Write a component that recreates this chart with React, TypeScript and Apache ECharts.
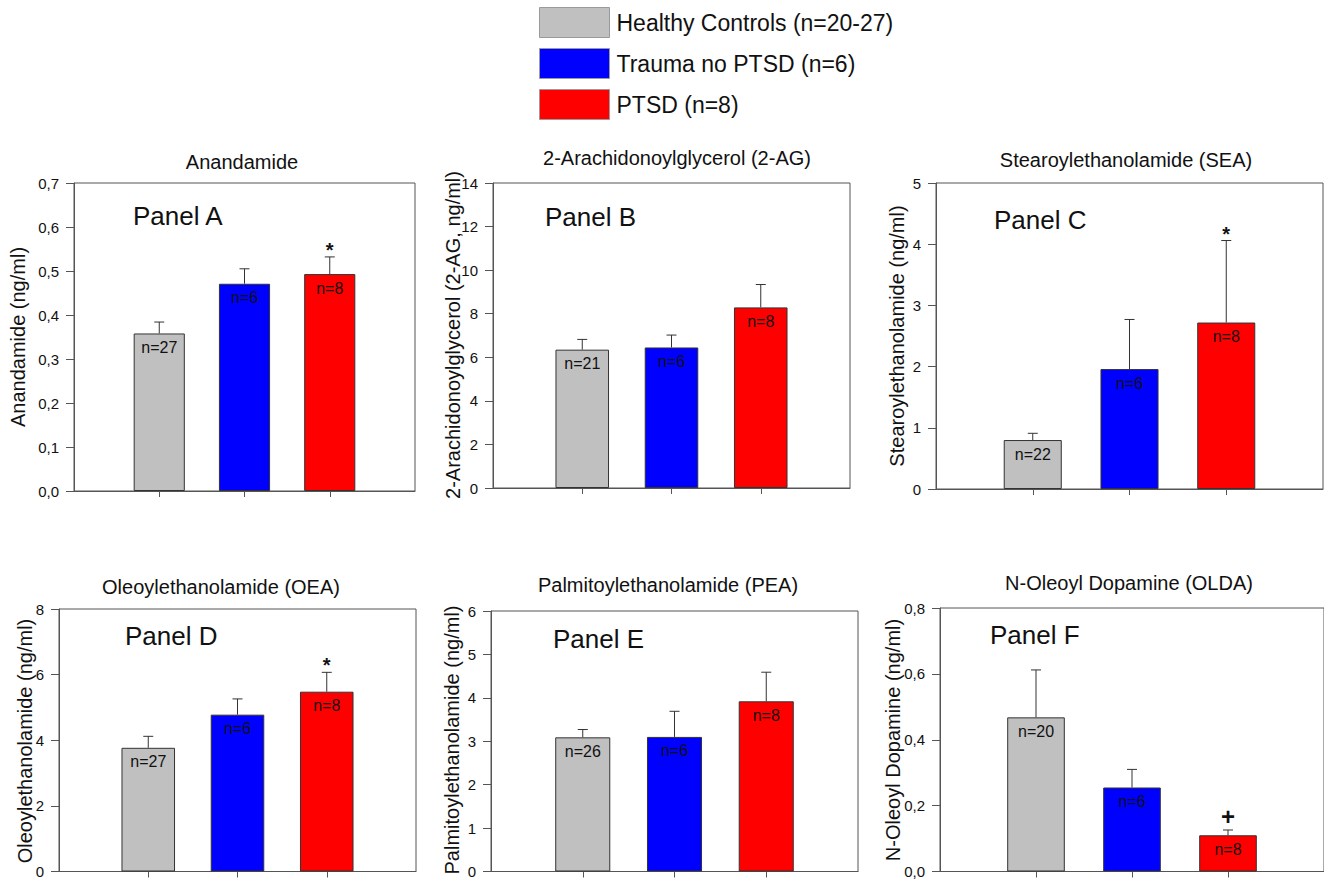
import React, { useEffect, useRef } from "react";
import * as echarts from "echarts";

// ---------- data ----------
const groups = ["Healthy Controls (n=20-27)", "Trauma no PTSD (n=6)", "PTSD (n=8)"];
const groupColors = ["#c0c0c0", "#0000ff", "#ff0000"];
const groupX = [1, 2, 3];

const panelTitles = [
  "Anandamide",
  "2-Arachidonoylglycerol (2-AG)",
  "Stearoylethanolamide (SEA)",
  "Oleoylethanolamide (OEA)",
  "Palmitoylethanolamide (PEA)",
  "N-Oleoyl Dopamine (OLDA)",
];
const panelLetters = ["Panel A", "Panel B", "Panel C", "Panel D", "Panel E", "Panel F"];
const yAxisTitles = [
  "Anandamide (ng/ml)",
  "2-Arachidonoylglycerol (2-AG, ng/ml)",
  "Stearoylethanolamide (ng/ml)",
  "Oleoylethanolamide (ng/ml)",
  "Palmitoylethanolamide (ng/ml)",
  "N-Oleoyl Dopamine (ng/ml)",
];

const meansA = [0.358, 0.471, 0.493];
const errTopA = [0.384, 0.505, 0.532];
const nA = ["n=27", "n=6", "n=8"];
const marksA = ["", "", "*"];

const meansB = [6.35, 6.45, 8.29];
const errTopB = [6.82, 7.02, 9.34];
const nB = ["n=21", "n=6", "n=8"];
const marksB = ["", "", ""];

const meansC = [0.8, 1.96, 2.72];
const errTopC = [0.91, 2.77, 4.06];
const nC = ["n=22", "n=6", "n=8"];
const marksC = ["", "", "*"];

const meansD = [3.77, 4.78, 5.48];
const errTopD = [4.12, 5.26, 6.07];
const nD = ["n=27", "n=6", "n=8"];
const marksD = ["", "", "*"];

const meansE = [3.09, 3.1, 3.92];
const errTopE = [3.27, 3.69, 4.59];
const nE = ["n=26", "n=6", "n=8"];
const marksE = ["", "", ""];

const meansF = [0.468, 0.255, 0.11];
const errTopF = [0.612, 0.31, 0.126];
const nF = ["n=20", "n=6", "n=8"];
const marksF = ["", "", "+"];

const yMax = [0.7, 14, 5, 8, 6, 0.8];
const yInterval = [0.1, 2, 1, 2, 1, 0.2];
const yDecimals = [1, 0, 0, 0, 0, 1];

const allMeans = [meansA, meansB, meansC, meansD, meansE, meansF];
const allErrTop = [errTopA, errTopB, errTopC, errTopD, errTopE, errTopF];
const allN = [nA, nB, nC, nD, nE, nF];
const allMarks = [marksA, marksB, marksC, marksD, marksE, marksF];

// ---------- layout ----------
const grids = [
  { left: 74, top: 183, width: 341, height: 308 },
  { left: 493, top: 183, width: 357, height: 305 },
  { left: 936, top: 183, width: 387, height: 306 },
  { left: 59, top: 609, width: 357, height: 263 },
  { left: 491, top: 611, width: 367, height: 261 },
  { left: 940, top: 608, width: 384, height: 265 },
];
const titlePos = [
  [242, 162], [677, 158], [1126, 160], [221, 587], [668, 585], [1129, 583],
];
const letterPos = [
  [133, 216], [545, 217], [994, 220], [125, 636], [553, 639], [990, 635],
];
const yTitlePos = [
  [18, 337], [453, 335], [897, 336], [25, 741], [452, 740], [893, 740],
];

const FONT = "'Liberation Sans', Arial, sans-serif";
const TXT = "#111";
const AXC = "#555";

function buildOption() {
  const xAxis: any[] = [];
  const yAxis: any[] = [];
  const series: any[] = [];
  const graphic: any[] = [];

  grids.forEach((g, i) => {
    xAxis.push({
      type: "value",
      gridIndex: i,
      min: 0,
      max: 4,
      splitLine: { show: false },
      axisLine: { show: true, lineStyle: { color: AXC, width: 1 } },
      axisTick: { show: true, customValues: groupX, length: 6, lineStyle: { color: AXC } },
      axisLabel: { show: false },
    });
    const dec = yDecimals[i];
    yAxis.push({
      type: "value",
      gridIndex: i,
      min: 0,
      max: yMax[i],
      interval: yInterval[i],
      splitLine: { show: false },
      axisLine: { show: true, lineStyle: { color: AXC, width: 1 } },
      axisTick: { show: true, length: 8, lineStyle: { color: AXC } },
      axisLabel: {
        margin: 15,
        fontSize: 15,
        color: TXT,
        fontFamily: FONT,
        formatter: (v: number) => (dec ? v.toFixed(dec).replace(".", ",") : String(Math.round(v))),
      },
    });
    const barW = (0.6 * g.width) / 4;
    groups.forEach((name, k) => {
      series.push({
        type: "bar",
        name,
        xAxisIndex: i,
        yAxisIndex: i,
        barWidth: barW,
        barGap: "-100%",
        itemStyle: { color: groupColors[k], borderColor: "#333", borderWidth: 1 },
        label: {
          show: true,
          position: "insideTop",
          distance: 6,
          formatter: () => allN[i][k],
          fontSize: 16,
          color: TXT,
          fontFamily: FONT,
        },
        data: [[groupX[k], allMeans[i][k]]],
        z: 2,
      });
    });
    const marks = allMarks[i];
    series.push({
      type: "custom",
      xAxisIndex: i,
      yAxisIndex: i,
      z: 3,
      data: groupX.map((x, k) => [x, allMeans[i][k], allErrTop[i][k]]),
      renderItem: (params: any, api: any) => {
        const x = api.value(0);
        const m = api.value(1);
        const t = api.value(2);
        const p0 = api.coord([x, m]);
        const p1 = api.coord([x, t]);
        const children: any[] = [
          { type: "line", shape: { x1: p0[0], y1: p0[1], x2: p1[0], y2: p1[1] }, style: { stroke: "#333", lineWidth: 1 } },
          { type: "line", shape: { x1: p1[0] - 5, y1: p1[1], x2: p1[0] + 5, y2: p1[1] }, style: { stroke: "#333", lineWidth: 1 } },
        ];
        const mk = marks[params.dataIndex];
        if (mk) {
          const isStar = mk === "*";
          children.push({
            type: "text",
            x: p1[0],
            y: p1[1] - (isStar ? 7 : 13),
            style: {
              text: mk,
              font: isStar ? `bold 20px ${FONT}` : `bold 24px ${FONT}`,
              fill: TXT,
              align: "center",
              verticalAlign: "middle",
              textAlign: "center",
              textVerticalAlign: "middle",
            },
          });
        }
        return { type: "group", children };
      },
    });

    graphic.push({
      type: "text",
      x: titlePos[i][0],
      y: titlePos[i][1],
      style: { text: panelTitles[i], font: `20px ${FONT}`, fill: TXT, textAlign: "center", textVerticalAlign: "middle", align: "center", verticalAlign: "middle" },
    });
    graphic.push({
      type: "text",
      x: letterPos[i][0],
      y: letterPos[i][1],
      style: { text: panelLetters[i], font: `26px ${FONT}`, fill: TXT, textAlign: "left", textVerticalAlign: "middle", align: "left", verticalAlign: "middle" },
    });
    graphic.push({
      type: "text",
      x: yTitlePos[i][0],
      y: yTitlePos[i][1],
      rotation: Math.PI / 2,
      style: { text: yAxisTitles[i], font: `20px ${FONT}`, fill: TXT, textAlign: "center", textVerticalAlign: "middle", align: "center", verticalAlign: "middle" },
    });
  });

  return {
    animation: false,
    backgroundColor: "#ffffff",
    textStyle: { fontFamily: FONT },
    legend: {
      data: groups,
      orient: "vertical",
      left: 539,
      top: 7,
      padding: 0,
      itemWidth: 70,
      itemHeight: 30,
      itemGap: 10,
      icon: "rect",
      itemStyle: { borderColor: "#9a9a9a", borderWidth: 1 },
      textStyle: { fontSize: 23, color: TXT, fontFamily: FONT, padding: [0, 0, 0, 2] },
    },
    grid: grids.map((g) => ({ ...g, show: true, borderColor: AXC, borderWidth: 1, backgroundColor: "transparent", containLabel: false })),
    xAxis,
    yAxis,
    series,
    graphic,
  };
}

export default function App() {
  const ref = useRef<HTMLDivElement>(null);
  useEffect(() => {
    if (!ref.current) return;
    const chart = echarts.init(ref.current, null, { renderer: "svg" });
    chart.setOption(buildOption() as any);
    return () => chart.dispose();
  }, []);
  return (
    <div
      ref={ref}
      style={{ position: "fixed", left: 0, top: 0, width: 1324, height: 879, background: "#fff" }}
    />
  );
}
